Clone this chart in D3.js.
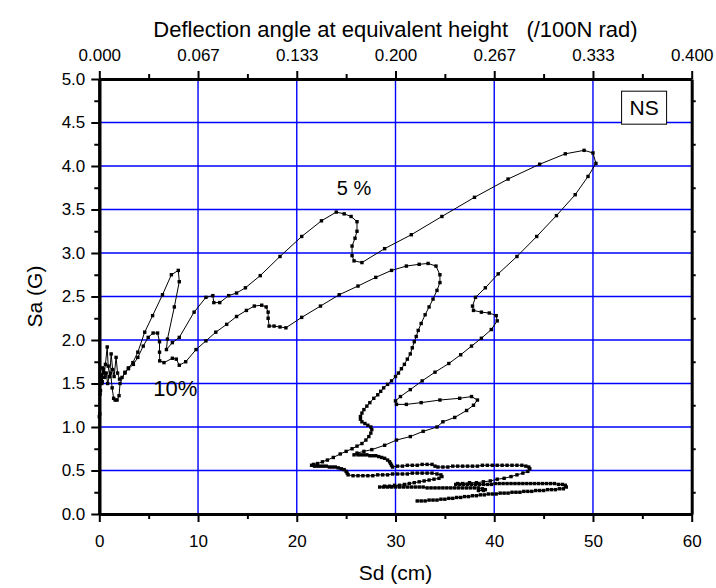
<!DOCTYPE html>
<html>
<head>
<meta charset="utf-8">
<script src="https://cdn.jsdelivr.net/npm/d3@7"></script>
<style>
  body { margin: 0; background: #fff; }
  text { font-family: "Liberation Sans", Arial, sans-serif; fill: #000; }
</style>
</head>
<body>
<svg id="chart" width="716" height="588"></svg>
<script>
// Axis ticks
const sdTicks = [0, 10, 20, 30, 40, 50, 60];
const sdMinor = [5, 15, 25, 35, 45, 55];
const saTicks = [0, 0.5, 1.0, 1.5, 2.0, 2.5, 3.0, 3.5, 4.0, 4.5, 5.0];
const saMinor = [0.25, 0.75, 1.25, 1.75, 2.25, 2.75, 3.25, 3.75, 4.25, 4.75];
const angleLabels = ["0.000", "0.067", "0.133", "0.200", "0.267", "0.333", "0.400"];
const gridX = [10, 20, 30, 40, 50];
const gridY = [0.5, 1.0, 1.5, 2.0, 2.5, 3.0, 3.5, 4.0, 4.5];

// Response trace, damping 5 %  [Sd (cm), Sa (G)]
const trace5 = [
  [0.0,1.12],[0.08,1.38],[0.15,1.6],[0.25,1.5],[0.35,1.68],[0.5,1.62],[0.62,1.72],[0.8,1.92],
  [0.9,1.7],[1.05,1.58],[1.2,1.84],[1.35,1.66],[1.5,1.58],[1.7,1.80],[1.85,1.62],[2.05,1.55],
  [2.3,1.57],[2.6,1.62],[2.95,1.68],[3.4,1.74],[3.9,1.86],[4.6,2.09],[5.4,2.28],[6.4,2.52],
  [7.3,2.75],[8.0,2.80],[8.1,2.67],[7.6,2.38],[6.9,2.01],[6.8,1.89],[7.4,1.97],[8.1,2.03],
  [9.6,2.32],[10.8,2.49],[11.5,2.51],[11.6,2.43],[12.2,2.43],[13.1,2.51],[13.9,2.54],[14.8,2.60],
  [16.3,2.74],[18.3,2.96],[20.5,3.19],[22.5,3.37],[24.0,3.47],[24.8,3.45],[25.5,3.42],[26.1,3.36],
  [26.1,3.25],[25.9,3.17],[25.6,3.08],[25.6,2.97],[25.8,2.91],[26.6,2.89],[28.9,3.05],[31.6,3.21],
  [34.7,3.42],[38.0,3.64],[41.4,3.85],[44.6,4.02],[47.2,4.14],[49.1,4.18],[50.0,4.15],[50.3,4.03],
  [49.5,3.88],[48.2,3.67],[46.3,3.43],[44.3,3.19],[42.3,2.96],[40.4,2.76],[39.1,2.60],[38.1,2.49],
  [37.8,2.39],[37.9,2.34],[38.7,2.32],[39.5,2.31],[40.2,2.28],[40.3,2.22],[39.7,2.12],[38.7,2.02],
  [37.7,1.93],[36.6,1.83],[35.4,1.73],[34.0,1.63],[32.7,1.53],[31.5,1.43],[30.5,1.35],[30.0,1.30],
  [30.1,1.26],[31.1,1.26],[32.6,1.28],[34.5,1.31],[36.5,1.33],[37.7,1.35],[38.3,1.31],[37.9,1.25],
  [37.2,1.19],[36.0,1.11],[34.8,1.06],[34.2,1.00],[32.8,0.95],[31.5,0.89],[30.1,0.85],[28.9,0.79],
  [27.6,0.74],[26.8,0.72],[26.1,0.70],[25.8,0.68],
  [26.2,0.68],[26.5,0.68],[26.8,0.68],[27.1,0.68],[27.4,0.67],[27.7,0.67],[28.0,0.67],[28.3,0.66],
  [28.6,0.65],[28.9,0.64],[29.2,0.62],[29.4,0.60],[29.5,0.58],[29.6,0.56],[29.7,0.54],
  [30.2,0.55],[30.7,0.55],[31.2,0.56],[31.7,0.56],[32.2,0.56],[32.7,0.57],[33.2,0.57],[33.7,0.57],
  [34.0,0.55],[34.3,0.54],[34.8,0.54],[35.3,0.54],[35.8,0.55],[36.3,0.55],[36.8,0.55],[37.3,0.55],
  [37.8,0.55],[38.3,0.55],[38.8,0.56],[39.3,0.56],[39.8,0.56],[40.3,0.56],[40.8,0.56],[41.3,0.56],
  [41.8,0.56],[42.3,0.56],[42.8,0.56],[43.2,0.55],[43.5,0.54],[43.6,0.52],[43.4,0.49],[42.9,0.47],
  [42.3,0.45],[41.7,0.43],[41.0,0.41],[40.3,0.40],[39.6,0.38],[38.9,0.37],[38.2,0.36],[37.5,0.36],
  [36.8,0.35],[36.3,0.35],[36.1,0.34],
  [36.5,0.34],[36.9,0.34],[37.3,0.34],[37.7,0.34],[38.1,0.34],[38.5,0.34],[38.9,0.34],[39.3,0.34],
  [39.7,0.34],[40.1,0.35],[40.5,0.35],[40.9,0.35],[41.3,0.35],[41.7,0.35],[42.1,0.35],[42.5,0.35],
  [42.9,0.35],[43.3,0.35],[43.7,0.35],[44.1,0.35],[44.5,0.35],[44.9,0.35],[45.3,0.35],[45.7,0.35],
  [46.1,0.35],[46.5,0.34],[46.9,0.34],[47.2,0.33],[47.3,0.31],[47.0,0.29],[46.6,0.29],[46.2,0.28],
  [45.8,0.28],[45.4,0.28],[45.0,0.27],[44.6,0.27],[44.2,0.27],[43.8,0.26],[43.4,0.26],[43.0,0.26],
  [42.6,0.25],[42.2,0.25],[41.8,0.25],[41.4,0.24],[41.0,0.24],[40.6,0.24],[40.2,0.23],[39.8,0.23],
  [39.4,0.23],[39.0,0.22],[38.6,0.22],[38.2,0.21],[37.8,0.21],[37.4,0.20],[37.0,0.20],[36.6,0.19],
  [36.2,0.19],[35.8,0.18],[35.4,0.18],[35.0,0.17],[34.6,0.17],[34.2,0.16],[33.8,0.16],[33.4,0.16],
  [33.0,0.15],[32.6,0.15],[32.2,0.15]
];

// Response trace, damping 10 %  [Sd (cm), Sa (G)]
const trace10 = [
  [0.05,1.15],[0.12,1.42],[0.2,1.6],[0.3,1.52],[0.42,1.66],[0.55,1.57],[0.7,1.62],[0.85,1.5],
  [1.0,1.58],[1.15,1.62],[1.3,1.45],[1.45,1.33],[1.6,1.31],[1.8,1.31],[2.0,1.36],[2.1,1.5],
  [2.6,1.63],[2.95,1.67],[3.45,1.72],[3.9,1.8],[4.45,1.93],[4.95,2.03],[5.45,2.08],[5.9,2.08],
  [6.1,1.98],[6.1,1.86],[6.12,1.76],[6.55,1.74],[7.4,1.79],[7.8,1.78],[8.1,1.71],[8.75,1.75],
  [9.8,1.89],[10.8,1.99],[11.8,2.09],[12.9,2.18],[13.9,2.27],[14.9,2.34],[15.7,2.39],[16.45,2.40],
  [16.9,2.38],[17.1,2.32],[17.1,2.25],[17.2,2.16],[17.7,2.16],[18.3,2.15],[18.9,2.14],[20.5,2.26],
  [22.4,2.39],[24.3,2.52],[26.2,2.62],[28.0,2.72],[29.6,2.80],[31.1,2.85],[32.4,2.87],[33.3,2.88],
  [34.1,2.85],[34.5,2.75],[34.5,2.66],[34.2,2.57],[33.8,2.47],[33.4,2.38],[33.0,2.29],[32.6,2.19],
  [32.3,2.11],[32.1,2.04],[31.9,1.98],[31.7,1.91],[31.5,1.84],[31.2,1.78],[30.9,1.72],[30.6,1.67],
  [30.3,1.62],[30.0,1.58],[29.6,1.53],[29.2,1.49],[28.8,1.45],[28.5,1.41],[28.2,1.37],[27.8,1.33],
  [27.4,1.28],[27.1,1.24],[26.8,1.20],[26.6,1.16],[26.45,1.12],[26.45,1.09],[26.6,1.06],[26.9,1.04],
  [27.2,1.02],[27.5,1.00],[27.6,0.97],[27.5,0.93],[27.3,0.89],[27.0,0.85],[26.6,0.81],[26.1,0.78],
  [25.6,0.75],[25.0,0.72],[24.4,0.69],[23.7,0.65],[23.1,0.62],[22.6,0.60],[22.1,0.58],[21.7,0.57],
  [21.5,0.56],[21.8,0.55],[22.1,0.55],[22.4,0.55],[22.7,0.55],[23.0,0.55],[23.3,0.54],[23.6,0.54],
  [23.9,0.54],[24.2,0.53],[24.5,0.52],[24.8,0.51],[25.0,0.49],[25.1,0.47],[25.2,0.45],
  [25.7,0.44],[26.2,0.44],[26.7,0.44],[27.2,0.44],[27.7,0.44],[28.2,0.45],[28.7,0.45],[29.2,0.45],
  [29.7,0.46],[30.2,0.46],[30.7,0.46],[31.2,0.46],[31.7,0.47],[32.2,0.47],[32.7,0.47],[33.2,0.47],
  [33.7,0.47],[34.2,0.46],[34.6,0.45],[34.7,0.43],[34.4,0.41],[33.9,0.40],[33.4,0.39],[32.9,0.38],
  [32.4,0.37],[31.9,0.36],[31.4,0.35],[30.9,0.34],[30.4,0.33],[29.9,0.33],[29.4,0.32],[28.9,0.32],
  [28.4,0.31],[28.8,0.31],[29.2,0.31],[29.6,0.31],[30.0,0.31],[30.4,0.31],[30.8,0.31],[31.2,0.31],
  [31.6,0.31],[32.0,0.31],[32.4,0.31],[32.8,0.31],[33.2,0.30],[33.6,0.30],[34.0,0.30],[34.4,0.30],
  [34.8,0.30],[35.2,0.30],[35.6,0.30],[36.0,0.30],[36.4,0.30],[36.8,0.30],[37.2,0.30],[37.6,0.30],
  [38.0,0.30],[38.4,0.30],[38.8,0.29],[39.1,0.28],[38.9,0.27],[38.4,0.27]
];

const svg = d3.select("#chart");
const W = 716, H = 588;
const margin = { top: 79, right: 24.3, bottom: 74, left: 99.3 };

const x = d3.scaleLinear().domain([0, 60]).range([margin.left, W - margin.right]);
const y = d3.scaleLinear().domain([0, 5]).range([H - margin.bottom, margin.top]);
const [x0, x1] = x.range();
const [y0, y1] = y.range();

// Grid lines
const grid = svg.append("g").attr("stroke", "#0000ff").attr("stroke-width", 1.4);
grid.selectAll("line.gx").data(gridX).join("line").attr("class", "gx")
  .attr("x1", d => x(d)).attr("x2", d => x(d)).attr("y1", y0).attr("y2", y1);
grid.selectAll("line.gy").data(gridY).join("line").attr("class", "gy")
  .attr("y1", d => y(d)).attr("y2", d => y(d)).attr("x1", x0).attr("x2", x1);

// Axes
const axisStyle = g => {
  g.select(".domain").attr("stroke", "#000").attr("stroke-width", 3);
  g.selectAll(".tick line").attr("stroke", "#000").attr("stroke-width", 2);
  g.selectAll(".tick text").style("font-size", "17px").attr("fill", "#000");
};

svg.append("g").attr("transform", `translate(0,${y0})`)
  .call(d3.axisBottom(x).tickValues(sdTicks).tickSize(8).tickSizeOuter(0).tickPadding(13).tickFormat(d3.format("d")))
  .call(axisStyle);
svg.append("g").attr("transform", `translate(0,${y0})`)
  .call(d3.axisBottom(x).tickValues(sdMinor).tickSize(5).tickSizeOuter(0).tickFormat(""))
  .call(axisStyle);

svg.append("g").attr("transform", `translate(0,${y1})`)
  .call(d3.axisTop(x).tickValues(sdTicks).tickSize(8).tickSizeOuter(0).tickPadding(10)
    .tickFormat((d, i) => angleLabels[i]))
  .call(axisStyle);
svg.append("g").attr("transform", `translate(0,${y1})`)
  .call(d3.axisTop(x).tickValues(sdMinor).tickSize(5).tickSizeOuter(0).tickFormat(""))
  .call(axisStyle);

svg.append("g").attr("transform", `translate(${x0},0)`)
  .call(d3.axisLeft(y).tickValues(saTicks).tickSize(8).tickSizeOuter(0).tickPadding(6).tickFormat(d3.format(".1f")))
  .call(axisStyle);
svg.append("g").attr("transform", `translate(${x0},0)`)
  .call(d3.axisLeft(y).tickValues(saMinor).tickSize(5).tickSizeOuter(0).tickFormat(""))
  .call(axisStyle);

svg.append("g").attr("transform", `translate(${x1},0)`)
  .call(d3.axisRight(y).tickValues(saMinor).tickSize(4).tickSizeOuter(0).tickFormat(""))
  .call(axisStyle);

// Axis titles
svg.append("text").attr("x", (x0 + x1) / 2).attr("y", 580)
  .attr("text-anchor", "middle").style("font-size", "21px").text("Sd (cm)");
svg.append("text").attr("transform", `translate(42,${(y0 + y1) / 2}) rotate(-90)`)
  .attr("text-anchor", "middle").style("font-size", "21px").text("Sa (G)");
svg.append("text").attr("x", (x0 + x1) / 2).attr("y", 37)
  .attr("text-anchor", "middle").style("font-size", "22px").style("white-space", "pre")
  .text("Deflection angle at equivalent height   (/100N rad)");

// Traces
const line = d3.line().x(d => x(d[0])).y(d => y(d[1]));
const plot = svg.append("g");
[trace5, trace10].forEach(tr => {
  plot.append("path").datum(tr).attr("d", line)
    .attr("fill", "none").attr("stroke", "#000").attr("stroke-width", 1);
  plot.append("g").selectAll("rect").data(tr).join("rect")
    .attr("x", d => x(d[0]) - 1.7).attr("y", d => y(d[1]) - 1.7)
    .attr("width", 3.4).attr("height", 3.4).attr("fill", "#000");
});

// Damping labels
svg.append("text").attr("x", x(25.8)).attr("y", y(3.67))
  .attr("text-anchor", "middle").style("font-size", "20px").text("5 %");
svg.append("text").attr("x", x(7.7)).attr("y", y(1.36))
  .attr("text-anchor", "middle").style("font-size", "22px").text("10%");

// Direction label box
const bx = x(52.9), by = y(4.86);
svg.append("rect").attr("x", bx).attr("y", by).attr("width", 45).attr("height", 33)
  .attr("fill", "#fff").attr("stroke", "#000").attr("stroke-width", 1);
svg.append("text").attr("x", bx + 22.5).attr("y", by + 24)
  .attr("text-anchor", "middle").style("font-size", "21px").text("NS");
</script>
</body>
</html>
